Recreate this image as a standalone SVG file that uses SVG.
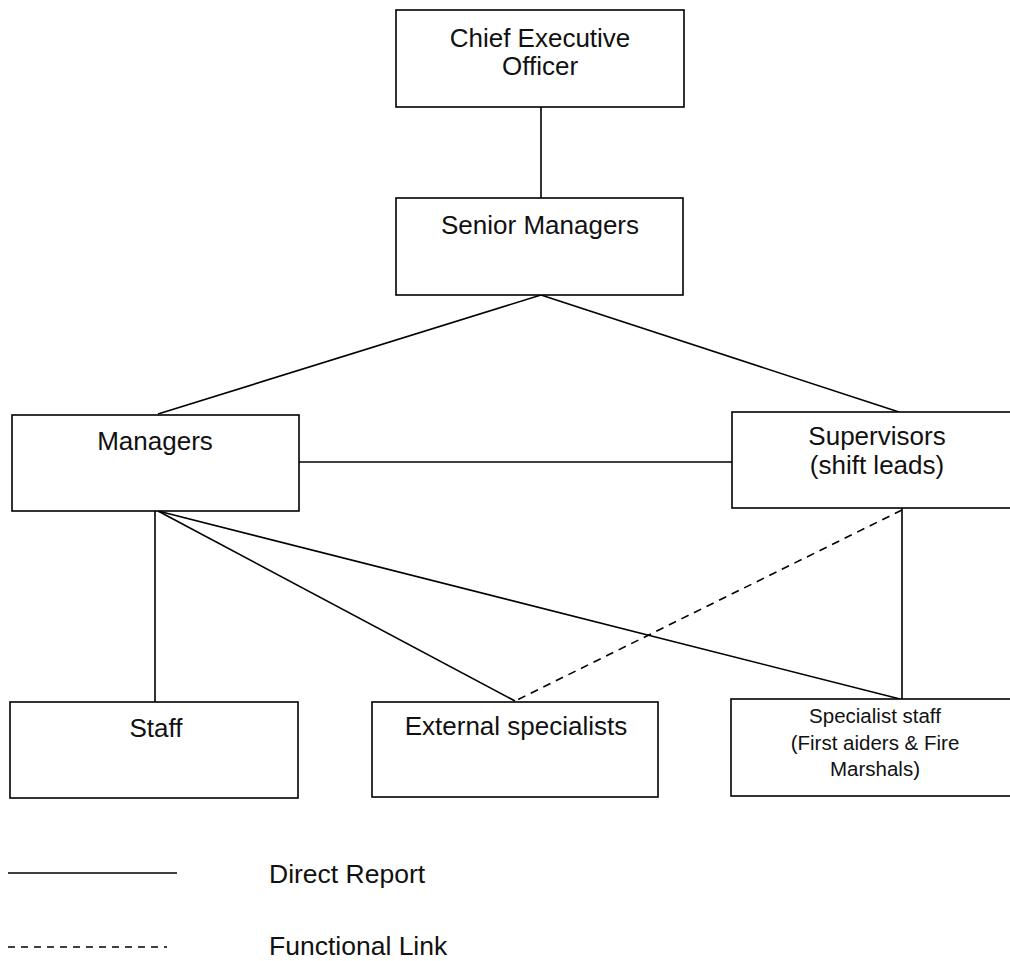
<svg xmlns="http://www.w3.org/2000/svg" width="1010" height="961" viewBox="0 0 1010 961">
<style>
.box{fill:#fff;stroke:#000;stroke-width:1.6}
.ln{stroke:#000;stroke-width:1.6;fill:none}
.dash{stroke:#000;stroke-width:1.6;fill:none;stroke-dasharray:8 6}
.t{font-family:"Liberation Sans",Arial,sans-serif;font-size:26px;fill:#111;text-anchor:middle}
.s{font-family:"Liberation Sans",Arial,sans-serif;font-size:20.5px;fill:#111;text-anchor:middle}
.l{font-family:"Liberation Sans",Arial,sans-serif;font-size:26.5px;fill:#111}
</style>
<rect width="1010" height="961" fill="#fff"/>
<g id="connectors">
<line class="ln" x1="541" y1="107" x2="541" y2="198"/>
<line class="ln" x1="541" y1="295" x2="158" y2="414"/>
<line class="ln" x1="541" y1="295" x2="899" y2="412"/>
<line class="ln" x1="299" y1="462" x2="732" y2="462"/>
<line class="ln" x1="155" y1="511" x2="155" y2="702"/>
<line class="ln" x1="158" y1="511" x2="515" y2="701"/>
<line class="ln" x1="158" y1="511" x2="900" y2="699"/>
<line class="ln" x1="902" y1="508" x2="902" y2="699"/>
<line class="dash" x1="902" y1="510" x2="515" y2="701"/>
</g>
<g id="ceo">
<rect class="box" x="396" y="10" width="288" height="97"/>
<text class="t" x="540" y="47">Chief Executive</text>
<text class="t" x="540" y="75">Officer</text>
</g>
<g id="senior">
<rect class="box" x="396" y="198" width="287" height="97"/>
<text class="t" x="540" y="234">Senior Managers</text>
</g>
<g id="managers">
<rect class="box" x="12" y="415" width="287" height="96"/>
<text class="t" x="155" y="450">Managers</text>
</g>
<g id="supervisors">
<rect class="box" x="732" y="412" width="290" height="96"/>
<text class="t" x="877" y="445">Supervisors</text>
<text class="t" x="877" y="474">(shift leads)</text>
</g>
<g id="staff">
<rect class="box" x="10" y="702" width="288" height="96"/>
<text class="t" x="156" y="737">Staff</text>
</g>
<g id="external">
<rect class="box" x="372" y="702" width="286" height="95"/>
<text class="t" x="516" y="735">External specialists</text>
</g>
<g id="specialist">
<rect class="box" x="731" y="699" width="290" height="97"/>
<text class="s" x="875" y="723">Specialist staff</text>
<text class="s" x="875" y="750">(First aiders &amp; Fire</text>
<text class="s" x="875" y="776">Marshals)</text>
</g>
<g id="legend">
<line class="ln" x1="8" y1="873" x2="177" y2="873"/>
<text class="l" x="269" y="883">Direct Report</text>
<line class="dash" x1="8" y1="947" x2="167" y2="947" style="stroke-dasharray:7 6"/>
<text class="l" x="269" y="955">Functional Link</text>
</g>
</svg>
